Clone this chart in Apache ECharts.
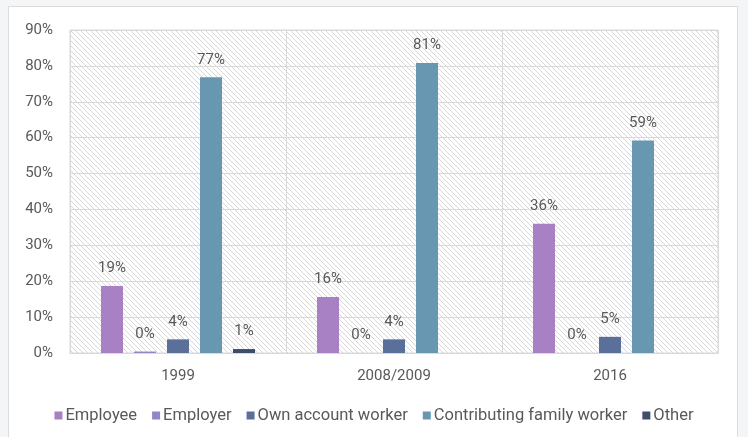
<!DOCTYPE html>
<html>
<head>
<meta charset="utf-8">
<script src="https://cdn.jsdelivr.net/npm/echarts@6/dist/echarts.min.js"></script>
<style>
  html, body { margin: 0; padding: 0; background: #f4f5f7; }
  #frame {
    position: absolute; left: 8px; top: 6px; width: 730px; height: 440px;
    background: #fff; border: 1px solid #dcdcdc; box-sizing: border-box;
  }
  #chart { position: absolute; left: 0; top: 0; width: 748px; height: 437px; }
</style>
</head>
<body>
<div id="frame"></div>
<div id="chart"></div>
<script>
const years = ['1999', '2008/2009', '2016']
const employee = [18.7, 15.6, 36.0]
const employer = [0.4, 0, 0]
const ownAccount = [3.8, 3.8, 4.5]
const familyWorker = [76.8, 80.8, 59.2]
const other = [1.1, null, null]
const yTicks = [0, 10, 20, 30, 40, 50, 60, 70, 80, 90]

const font = 'Roboto, "Liberation Sans", sans-serif'
const textColor = '#595959'
const lineColor = '#d9d9d9'

// hatched plot background, like the Excel pattern fill
const makeHatch = () => {
  const size = 5
  const c = document.createElement('canvas')
  c.width = size
  c.height = size
  const ctx = c.getContext('2d')
  ctx.fillStyle = '#ffffff'
  ctx.fillRect(0, 0, size, size)
  ctx.strokeStyle = '#d8d8d8'
  ctx.lineWidth = 1
  for (const off of [-size, 0, size]) {
    ctx.beginPath()
    ctx.moveTo(off, 0)
    ctx.lineTo(off + size, size)
    ctx.stroke()
  }
  return c
}

const barSeries = (name, data, color) => ({
  name,
  type: 'bar',
  data,
  barWidth: 22,
  barGap: '50%',
  itemStyle: { color },
  label: {
    show: true,
    position: 'top',
    distance: 10,
    color: textColor,
    fontFamily: font,
    fontSize: 15,
    formatter: (p) => (p.value == null ? '' : Math.round(p.value) + '%'),
  },
})

const chart = echarts.init(document.getElementById('chart'))
chart.setOption({
  backgroundColor: 'transparent',
  animation: false,
  textStyle: { fontFamily: font },
  grid: {
    left: 70,
    right: 30,
    top: 30,
    bottom: 84,
    show: true,
    borderColor: lineColor,
    borderWidth: 1,
    backgroundColor: { image: makeHatch(), repeat: 'repeat' },
  },
  legend: {
    bottom: 8,
    left: 'center',
    icon: 'rect',
    itemWidth: 8,
    itemHeight: 8,
    itemGap: 15,
    textStyle: { color: textColor, fontSize: 16.5, fontFamily: font, padding: [0, 0, 0, -2] },
  },
  xAxis: {
    type: 'category',
    data: years,
    axisLine: { lineStyle: { color: lineColor } },
    axisTick: { show: false },
    axisLabel: { color: textColor, fontSize: 15, margin: 16 },
    splitLine: { show: true, lineStyle: { color: lineColor } },
  },
  yAxis: {
    type: 'value',
    min: yTicks[0],
    max: yTicks[yTicks.length - 1],
    interval: 10,
    axisLine: { show: false },
    axisTick: { show: false },
    axisLabel: { color: textColor, fontSize: 15, margin: 17, formatter: '{value}%' },
    splitLine: { lineStyle: { color: lineColor } },
  },
  series: [
    barSeries('Employee', employee, '#a880c4'),
    barSeries('Employer', employer, '#8d88c8'),
    barSeries('Own account worker', ownAccount, '#5b6f9b'),
    barSeries('Contributing family worker', familyWorker, '#6898b1'),
    barSeries('Other', other, '#3e4d6c'),
  ],
})
</script>
</body>
</html>
